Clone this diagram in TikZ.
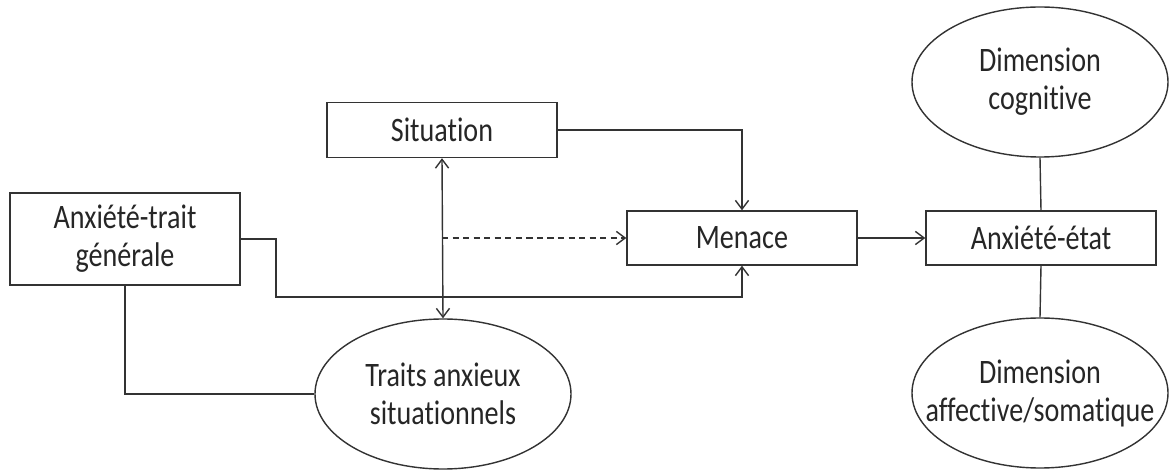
\documentclass[tikz,border=0pt]{standalone}
\usepackage{fontspec}
\setmainfont{Carlito}[Ligatures=NoCommon,FakeStretch=0.82]
\usetikzlibrary{arrows.meta,shapes.geometric}

\begin{document}
\begin{tikzpicture}[x=0.2mm,y=-0.2mm,>={Straight Barb[length=5pt,width=7.5pt]},
  every node/.style={font=\fontsize{19.5}{21.6}\selectfont,text=black!85,align=center,inner sep=0pt},
  boite/.style={draw=black!80,line width=0.8pt,minimum width=46mm},
  bulle/.style={draw=black!80,line width=0.8pt,ellipse,minimum width=51.2mm,minimum height=30mm},
  lien/.style={draw=black!80,line width=0.8pt}]
\useasboundingbox (0,0) rectangle (1170,470);
% cases
\node[boite,minimum height=11mm] (sit) at (442,130) {Situation};
\node[boite,minimum height=18.4mm] (atg) at (125,239) {Anxiété-trait\\générale};
\node[boite,minimum height=10.8mm] (men) at (742,238) {Menace};
\node[boite,minimum height=10.8mm] (ae) at (1041,238) {Anxiété-état};
% ellipses (texte en label pour garder la taille)
\node[bulle,label=center:{Traits anxieux\\situationnels}] (tax) at (443,394) {};
\node[bulle,label=center:{Dimension\\cognitive}] (dc) at (1040,82) {};
\node[bulle,label=center:{Dimension\\affective/somatique}] (da) at (1040,393) {};
% points de passage
\coordinate (coude) at (276,297);
\coordinate (pointille) at (442,238);
% fleches
\draw[lien,->] (sit.east) -| (men.north);
\draw[lien,->] (atg.east) -| (coude) -| (men.south);
\draw[lien] (atg.south) |- (tax.west);
\draw[lien,<->] (sit.south) -- (tax.north);
\draw[lien,->,dash pattern=on 3.5pt off 2.5pt] (pointille) -- (men.west);
\draw[lien,->] (men.east) -- (ae.west);
\draw[lien] (dc.south) -- (ae.north);
\draw[lien] (ae.south) -- (da.north);
\end{tikzpicture}
\end{document}
